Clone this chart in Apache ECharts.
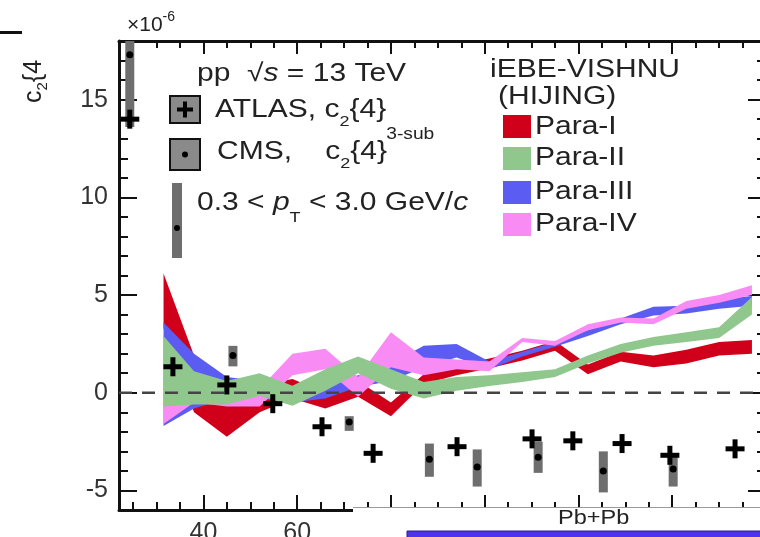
<!DOCTYPE html>
<html>
<head>
<meta charset="utf-8">
<script src="https://cdn.jsdelivr.net/npm/echarts@6/dist/echarts.min.js"></script>
<style>
  html, body { margin: 0; padding: 0; background: #fff; }
  #chart { width: 760px; height: 537px; }
</style>
</head>
<body>
<div id="chart"></div>
<script>
  // model nodes (x) and band limits
  var nodeX = [31.5, 38, 45, 52, 59, 66, 73, 80, 87, 94, 101, 108, 115, 122, 129, 136, 143, 150, 157]

  var redLo = [3.3, -1.0, -2.25, -1.0, -0.3, -0.8, -0.2, -1.2, 0.45, 0.9, 1.25, 1.65, 2.15, 0.95, 1.6, 1.3, 1.5, 1.9, 2.0]
  var redHi = [6.1, 1.9, 0.0, 0.4, 0.7, 0.0, 0.6, -0.5, 0.95, 1.4, 1.75, 2.15, 2.65, 1.45, 2.1, 1.9, 2.2, 2.6, 2.7]

  var blueLo = [-1.7, -0.8, -0.3, -0.3, -0.5, -0.3, 0.3, 0.6, 1.3, 1.8, 1.2, 1.85, 2.35, 2.9, 3.5, 3.95, 4.05, 4.3, 4.45]
  var blueHi = [3.6, 2.0, 0.8, 0.6, 0.3, 0.4, 0.9, 1.5, 2.4, 2.5, 1.6, 2.1, 2.6, 3.2, 3.8, 4.4, 4.45, 4.8, 4.95]

  var pinkLo = [-1.6, -0.5, -0.7, -0.7, 0.9, 1.2, -0.2, 1.3, 0.9, 1.2, 1.1, 2.6, 2.4, 3.2, 3.6, 3.5, 4.3, 4.6, 5.0]
  var pinkHi = [1.5, 0.8, 0.3, 0.2, 2.0, 2.25, 0.8, 3.1, 1.8, 1.7, 1.6, 2.8, 2.65, 3.5, 3.85, 3.8, 4.7, 5.0, 5.5]

  var greenLo = [-0.7, -0.6, -0.6, -0.15, -0.67, 0.1, 1.0, 0.2, -0.3, 0.1, 0.35, 0.55, 0.8, 1.5, 2.05, 2.4, 2.6, 2.8, 4.0]
  var greenHi = [2.9, 1.1, 0.6, 1.0, 0.36, 1.2, 1.85, 1.2, 0.55, 0.8, 0.9, 1.05, 1.2, 1.9, 2.5, 2.85, 3.1, 3.35, 4.9]

  // ATLAS c2{4} 3-sub
  var atlasX = [24.3, 33.5, 45.0, 54.8, 65.3, 76.2, 94.1, 110.1, 118.8, 129.3, 139.5, 153.4]
  var atlasY = [14.0, 1.33, 0.4, -0.56, -1.74, -3.1, -2.76, -2.36, -2.46, -2.6, -3.2, -2.87]

  // CMS c2{4}
  var cmsX = [24.3, 46.3, 71.1, 88.2, 98.4, 111.4, 125.3, 140.2]
  var cmsY = [17.3, 1.9, -1.5, -3.4, -3.8, -3.3, -4.0, -3.9]
  var cmsLo = [13.6, 1.35, -1.95, -4.3, -4.8, -4.1, -5.1, -4.8]
  var cmsHi = [18.5, 2.4, -1.2, -2.6, -2.9, -2.5, -3.0, -3.2]

  var xMajor = [40, 60, 80, 100, 120, 140, 160]
  var xLabels = [40, 60, 80, 100, 120, 140]
  var xMinor = [25, 30, 35, 45, 50, 55, 65, 70, 75, 85, 90, 95, 105, 110, 115, 125, 130, 135, 145, 150, 155]
  var yMajor = [-5, 0, 5, 10, 15]
  var yMinor = [-5, -4, -3, -2, -1, 0, 1, 2, 3, 4, 5, 6, 7, 8, 9, 10, 11, 12, 13, 14, 15, 16, 17]

  var FONT = '"Liberation Sans", Arial, sans-serif'
  var INK = '#222'

  var chart = echarts.init(document.getElementById('chart'), null, { renderer: 'canvas' })

  var measure = document.createElement('canvas').getContext('2d')
  // a line of text made of pieces (sub/superscripts, italics), placed one after another
  function textRun (x, y, parts, sx) {
    var out = []
    var cx = x
    parts.forEach(function (p) {
      var style = p.italic ? 'italic' : 'normal'
      measure.font = style + ' ' + p.size + 'px ' + FONT
      out.push({
        type: 'text',
        x: cx,
        y: y + (p.dy || 0),
        scaleX: sx,
        z: 50,
        style: {
          text: p.t,
          fontSize: p.size,
          fontFamily: FONT,
          fontStyle: style,
          fill: INK,
          align: 'left',
          verticalAlign: 'middle',
          textAlign: 'left',
          textVerticalAlign: 'middle'
        }
      })
      cx += measure.measureText(p.t).width * sx
    })
    return out
  }

  function pairs (xs, ys) {
    return xs.map(function (x, i) { return [x, ys[i]] })
  }

  // a band = invisible lower line + stacked (hi - lo) area on top of it.
  // y goes first in each item so that ECharts stacks y, not x
  function band (name, lo, hi, color) {
    return [
      {
        name: name + '-lo',
        type: 'line',
        stack: name,
        stackStrategy: 'all',
        data: nodeX.map(function (x, i) { return [lo[i], x] }),
        encode: { x: 1, y: 0 },
        symbol: 'none',
        silent: true,
        lineStyle: { width: 0, opacity: 0 }
      },
      {
        name: name,
        type: 'line',
        stack: name,
        stackStrategy: 'all',
        data: nodeX.map(function (x, i) { return [hi[i] - lo[i], x] }),
        encode: { x: 1, y: 0 },
        symbol: 'none',
        silent: true,
        lineStyle: { width: 0, opacity: 0 },
        areaStyle: { color: color, opacity: 1 }
      }
    ]
  }

  function xAxisDef (pos, ticks, len, line, labels) {
    return {
      type: 'value',
      min: 22,
      max: 160,
      position: pos,
      axisLine: { show: line, onZero: false, lineStyle: { color: '#111', width: 3 } },
      axisTick: { show: true, inside: true, length: len, customValues: ticks, lineStyle: { color: '#111', width: 2 } },
      axisLabel: labels ? { show: true, customValues: labels, margin: 11, fontSize: 25, fontFamily: FONT, color: '#333' } : { show: false },
      splitLine: { show: false }
    }
  }

  function yAxisDef (pos, ticks, len, line, labels) {
    return {
      type: 'value',
      min: -6,
      max: 18,
      position: pos,
      axisLine: { show: line, onZero: false, lineStyle: { color: '#111', width: 3 } },
      axisTick: { show: true, inside: true, length: len, customValues: ticks, lineStyle: { color: '#111', width: 2 } },
      axisLabel: labels ? { show: true, customValues: labels, margin: 11, fontSize: 25, fontFamily: FONT, color: '#333' } : { show: false },
      splitLine: { show: false }
    }
  }

  var series = [
    {
      name: 'zero',
      type: 'line',
      data: [[22, 0], [160, 0]],
      symbol: 'none',
      silent: true,
      lineStyle: { color: '#444', width: 2.5, type: [13, 10] }
    }
  ]
    .concat(band('red', redLo, redHi, '#d1001a'))
    .concat(band('blue', blueLo, blueHi, '#5b5cf1'))
    .concat(band('pink', pinkLo, pinkHi, '#f98cf4'))
    .concat(band('green', greenLo, greenHi, '#8fc78d'))

  series.push({
    name: 'CMS',
    type: 'custom',
    clip: true,
    z: 10,
    data: cmsX.map(function (x, i) { return [x, cmsY[i], cmsLo[i], cmsHi[i]] }),
    encode: { x: 0, y: 1 },
    renderItem: function (params, api) {
      var x = api.value(0)
      var top = api.coord([x, api.value(3)])
      var bot = api.coord([x, api.value(2)])
      var c = api.coord([x, api.value(1)])
      return {
        type: 'group',
        children: [
          { type: 'rect', shape: { x: top[0] - 4.5, y: top[1], width: 9, height: bot[1] - top[1] }, style: { fill: '#6e6e6e' } },
          { type: 'circle', shape: { cx: c[0], cy: c[1], r: 3.5 }, style: { fill: '#000' } }
        ]
      }
    }
  })

  series.push({
    name: 'ATLAS',
    type: 'custom',
    clip: true,
    z: 11,
    data: pairs(atlasX, atlasY),
    encode: { x: 0, y: 1 },
    renderItem: function (params, api) {
      var c = api.coord([api.value(0), api.value(1)])
      return {
        type: 'group',
        children: [
          { type: 'rect', shape: { x: c[0] - 9.5, y: c[1] - 2.5, width: 19, height: 5 }, style: { fill: '#000' } },
          { type: 'rect', shape: { x: c[0] - 2.5, y: c[1] - 9.5, width: 5, height: 19 }, style: { fill: '#000' } }
        ]
      }
    }
  })

  var S = 1.2
  var graphics = []
    // y axis title, reading upwards
    .concat([{
      type: 'group',
      x: 34,
      y: 103,
      rotation: Math.PI / 2,
      children: textRun(0, 0, [
        { t: 'c', size: 25 },
        { t: '2', size: 15, dy: 9 },
        { t: '{4', size: 25 }
      ], 1)
    }])
    .concat(textRun(127, 25, [
      { t: '×10', size: 21 },
      { t: '-6', size: 14, dy: -8 }
    ], 1))
    .concat(textRun(197, 74, [
      { t: 'pp  √', size: 25 },
      { t: 's', size: 25, italic: true },
      { t: ' = 13 TeV', size: 25 }
    ], S))
    .concat(textRun(215, 110, [
      { t: 'ATLAS, c', size: 25 },
      { t: '2', size: 15, dy: 12 },
      { t: '{4}', size: 25 },
      { t: '3-sub', size: 16, dy: 25 }
    ], S))
    .concat(textRun(217, 152, [
      { t: 'CMS,    c', size: 25 },
      { t: '2', size: 15, dy: 12 },
      { t: '{4}', size: 25 }
    ], S))
    .concat(textRun(197, 203, [
      { t: '0.3 < ', size: 25 },
      { t: 'p', size: 25, italic: true },
      { t: 'T', size: 15, dy: 15 },
      { t: ' < 3.0 GeV/', size: 25 },
      { t: 'c', size: 25, italic: true }
    ], S))
    .concat(textRun(490, 70, [{ t: 'iEBE-VISHNU', size: 25 }], S))
    .concat(textRun(498, 97, [{ t: '(HIJING)', size: 25 }], S))
    .concat(textRun(535, 127, [{ t: 'Para-I', size: 25 }], S))
    .concat(textRun(535, 158, [{ t: 'Para-II', size: 25 }], S))
    .concat(textRun(535, 192, [{ t: 'Para-III', size: 25 }], S))
    .concat(textRun(535, 224, [{ t: 'Para-IV', size: 25 }], S))
    .concat([
      // legend markers
      { type: 'rect', z: 50, shape: { x: 170, y: 96, width: 30, height: 27 }, style: { fill: '#8a8a8a', stroke: '#111', lineWidth: 2 } },
      { type: 'rect', z: 51, shape: { x: 177, y: 107.5, width: 16, height: 4 }, style: { fill: '#000' } },
      { type: 'rect', z: 51, shape: { x: 183, y: 101.5, width: 4, height: 16 }, style: { fill: '#000' } },
      { type: 'rect', z: 50, shape: { x: 170, y: 139, width: 30, height: 31 }, style: { fill: '#8a8a8a', stroke: '#111', lineWidth: 2 } },
      { type: 'circle', z: 51, shape: { cx: 185, cy: 154.5, r: 3 }, style: { fill: '#000' } },
      { type: 'rect', z: 50, shape: { x: 172, y: 183, width: 10, height: 75 }, style: { fill: '#6e6e6e' } },
      { type: 'circle', z: 51, shape: { cx: 177, cy: 228, r: 3 }, style: { fill: '#000' } },
      { type: 'rect', z: 50, shape: { x: 503, y: 115, width: 28, height: 23 }, style: { fill: '#d1001a' } },
      { type: 'rect', z: 50, shape: { x: 503, y: 147, width: 28, height: 23 }, style: { fill: '#8fc78d' } },
      { type: 'rect', z: 50, shape: { x: 503, y: 181, width: 28, height: 23 }, style: { fill: '#5b5cf1' } },
      { type: 'rect', z: 50, shape: { x: 503, y: 213, width: 28, height: 23 }, style: { fill: '#f98cf4' } },
      // bits of the neighbouring panels
      { type: 'rect', z: 50, shape: { x: 0, y: 31, width: 22, height: 3 }, style: { fill: '#111' } },
      { type: 'rect', z: 100, shape: { x: 353, y: 507.5, width: 410, height: 32 }, style: { fill: '#fff' } },
      { type: 'line', z: 101, shape: { x1: 353, y1: 507.5, x2: 760, y2: 507.5 }, style: { stroke: '#9a9a9a', lineWidth: 1 } },
      { type: 'rect', z: 101, shape: { x: 407, y: 531, width: 360, height: 8 }, style: { fill: '#4f33ea', stroke: '#2a1a9a', lineWidth: 1 } }
    ])
    .concat(textRun(558, 518, [{ t: 'Pb+Pb', size: 21 }], 1.12).map(function (e) { e.z = 102; return e }))

  var option = {
    animation: false,
    backgroundColor: '#fff',
    grid: { left: 119, top: 41, width: 647, height: 469, containLabel: false, outerBoundsMode: 'none' },
    xAxis: [
      xAxisDef('bottom', xMajor, 15, true, xLabels),
      xAxisDef('bottom', xMinor, 8, false, null),
      xAxisDef('top', xMajor, 13, true, null),
      xAxisDef('top', xMinor, 7, false, null)
    ],
    yAxis: [
      yAxisDef('left', yMajor, 18, true, yMajor),
      yAxisDef('left', yMinor, 9, false, null),
      yAxisDef('right', yMajor, 18, true, null),
      yAxisDef('right', yMinor, 9, false, null)
    ],
    series: series,
    graphic: { elements: graphics }
  }

  chart.setOption(option)
</script>
</body>
</html>
